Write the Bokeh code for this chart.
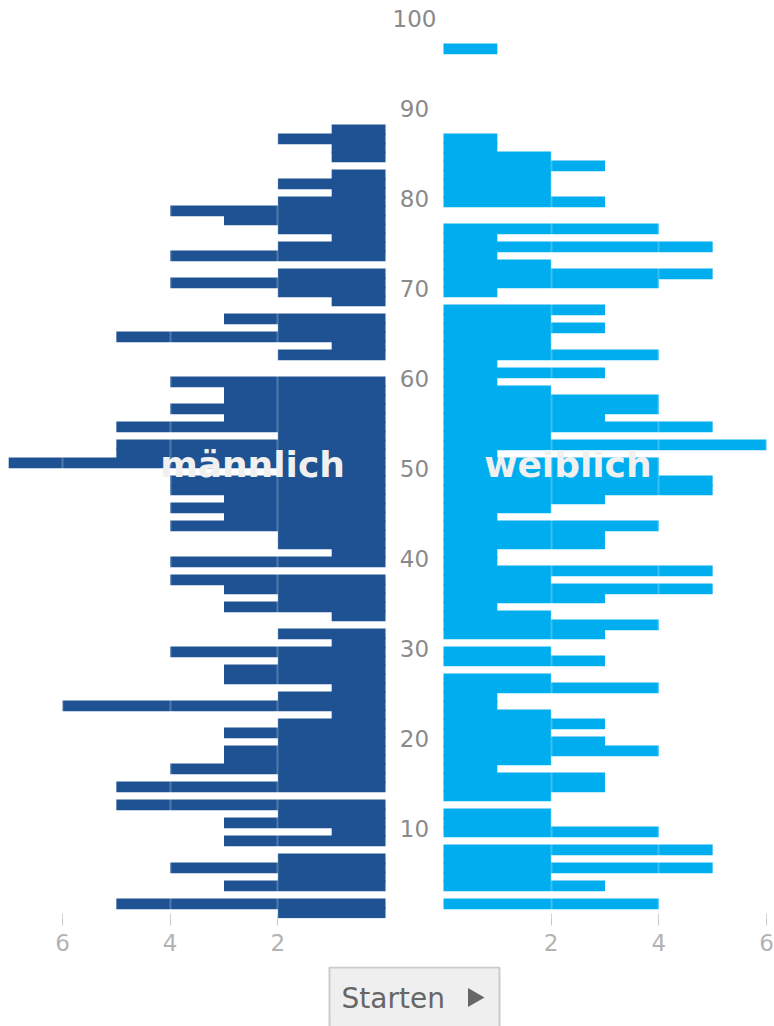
import math
from bokeh.plotting import figure
from bokeh.models import Range1d, FixedTicker, CustomJSTickFormatter, ColumnDataSource
from bokeh.layouts import column
from bokeh.embed import file_html
from bokeh.resources import INLINE
from bokeh.core.properties import value

# ---------------- data ----------------
ages = list(range(101))
male = [2, 5, 0, 3, 2, 4, 2, 0, 3, 1,
        3, 2, 5, 0, 5, 2, 4, 3, 3, 2,
        3, 2, 1, 6, 2, 1, 3, 3, 2, 4,
        1, 2, 0, 1, 3, 2, 3, 4, 0, 4,
        1, 2, 2, 4, 3, 4, 3, 4, 4, 2,
        7, 5, 5, 2, 5, 3, 4, 3, 3, 4,
        0, 0, 2, 1, 5, 2, 3, 0, 1, 2,
        4, 2, 0, 4, 2, 1, 2, 3, 4, 2,
        1, 2, 1, 0, 1, 1, 2, 1, 0, 0,
        0, 0, 0, 0, 0, 0, 0, 0, 0, 0,
        0]
female = [0, 4, 0, 3, 2, 5, 2, 5, 0, 4,
          2, 2, 0, 2, 3, 3, 1, 2, 4, 3,
          2, 3, 2, 1, 1, 4, 2, 0, 3, 2,
          0, 3, 4, 2, 1, 3, 5, 2, 5, 1,
          1, 3, 3, 4, 1, 2, 3, 5, 5, 4,
          4, 1, 6, 2, 5, 3, 4, 4, 2, 1,
          3, 1, 4, 2, 2, 3, 2, 3, 0, 1,
          4, 5, 2, 1, 5, 1, 4, 0, 0, 3,
          2, 2, 2, 3, 2, 1, 1, 0, 0, 0,
          0, 0, 0, 0, 0, 0, 1, 0, 0, 0,
          0]
age_tick_values = [10, 20, 30, 40, 50, 60, 70, 80, 90, 100]
age_tick_labels = ["10", "20", "30", "40", "50", "60", "70", "80", "90", "100"]
value_tick_values = [2, 4, 6]
series_names = ["männlich", "weiblich"]
button_text = "Starten"

# ---------------- styles / geometry ----------------
MALE_COLOR = "#1F5292"
FEMALE_COLOR = "#00AEEF"
W = 774
FRAME_H = 918
UNIT = 53.83               # px per person
MALE_ZERO = 385.0          # frame px of male zero
FEMALE_ZERO = 443.0        # frame px of female zero
GAP = (FEMALE_ZERO - MALE_ZERO) / UNIT
PX_PER_YEAR = 9.0
BAR_OFFSET = 0.628
BAR_H = 1.189

p = figure(width=W, height=FRAME_H + 48, output_backend="svg", toolbar_location=None,
           x_range=Range1d(-FEMALE_ZERO / UNIT, (W - FEMALE_ZERO) / UNIT),
           y_range=Range1d(0, FRAME_H / PX_PER_YEAR),
           y_axis_location=None,
           min_border_left=0, min_border_right=0, min_border_top=0, min_border_bottom=48)
p.extra_x_ranges = {"male": Range1d(MALE_ZERO / UNIT, -(W - MALE_ZERO) / UNIT)}
p.outline_line_color = None
p.background_fill_color = "white"
p.border_fill_color = "white"
p.ygrid.visible = False

src = ColumnDataSource(dict(y=[a + BAR_OFFSET for a in ages], male=male, female=female))
p.hbar(y="y", left=0, right="male", height=BAR_H, source=src, x_range_name="male",
       fill_color=MALE_COLOR, line_color=None)
p.hbar(y="y", left=0, right="female", height=BAR_H, source=src,
       fill_color=FEMALE_COLOR, line_color=None)

tick_positions = [-GAP - v for v in value_tick_values] + list(value_tick_values)
ticker = FixedTicker(ticks=tick_positions)
p.xaxis.ticker = ticker
p.xaxis.formatter = CustomJSTickFormatter(args=dict(gap=GAP), code="""
    return tick > 0 ? Math.round(tick).toString() : Math.round(-tick - gap).toString();
""")
p.xaxis.axis_line_color = None
p.xaxis.major_tick_line_color = "#c8c8c8"
p.xaxis.major_tick_line_width = 1
p.xaxis.major_tick_in = 5
p.xaxis.major_tick_out = 7
p.xaxis.minor_tick_line_color = None
p.xaxis.major_label_text_font = "DejaVu Sans"
p.xaxis.major_label_text_font_size = "23px"
p.xaxis.major_label_text_color = "#b3b3b3"
p.xaxis.major_label_standoff = 8

p.xgrid.ticker = ticker
p.xgrid.grid_line_color = "white"
p.xgrid.grid_line_alpha = 0.22
p.xgrid.grid_line_width = 2
p.xgrid.level = "overlay"

# age labels in the middle
p.text(x=[-GAP / 2] * len(age_tick_values), y=age_tick_values, text=age_tick_labels,
       text_align="center", text_baseline="middle", y_offset=0,
       text_font=value("DejaVu Sans"), text_font_size="23px", text_color="#8a8a8a")

# series labels
p.text(x=[2.47], y=[50.41], text=[series_names[0]], x_range_name="male",
       text_align="center", text_baseline="middle",
       text_font=value("DejaVu Sans"), text_font_style="bold", text_font_size="36px",
       text_color="#F0F0F0")
p.text(x=[2.31], y=[50.41], text=[series_names[1]],
       text_align="center", text_baseline="middle",
       text_font=value("DejaVu Sans"), text_font_style="bold", text_font_size="36px",
       text_color="#F0F0F0")

# ---------------- button ----------------
BH = 60
p2 = figure(width=W, height=BH, output_backend="svg", toolbar_location=None,
            x_range=Range1d(0, W), y_range=Range1d(BH, 0),
            x_axis_location=None, y_axis_location=None, min_border=0)
p2.outline_line_color = None
p2.grid.visible = False
cx = (MALE_ZERO + FEMALE_ZERO) / 2
p2.quad(left=[cx - 85], right=[cx + 85], top=[1], bottom=[80],
        fill_color="#efefef", line_color="#cccccc", line_width=2)
p2.text(x=[cx - 73], y=[31.6], text=[button_text], text_align="left", text_baseline="middle",
        text_font=value("DejaVu Sans"), text_font_size="28px", text_color="#666666")
p2.scatter(x=[cx + 59], y=[31], marker="triangle", size=19, angle=-math.pi / 2,
           fill_color="#666666", line_color=None)

layout = column(p, p2, spacing=0)
open("out.html", "w").write(file_html(layout, INLINE))
